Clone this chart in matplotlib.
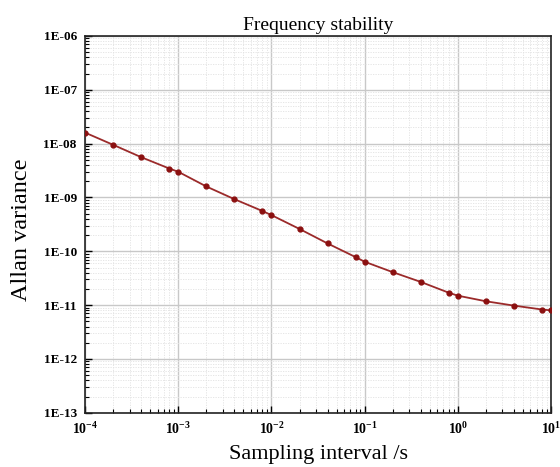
import numpy as np
import matplotlib
matplotlib.use("Agg")
import matplotlib.pyplot as plt
from matplotlib.ticker import LogLocator, NullFormatter

plt.rcParams['font.family'] = ['Liberation Serif', 'DejaVu Serif']
plt.rcParams['mathtext.fontset'] = 'custom'
plt.rcParams['mathtext.rm'] = 'Liberation Serif'
plt.rcParams['mathtext.bf'] = 'Liberation Serif:bold'

# data
tau = [1e-4, 2e-4, 4e-4, 8e-4, 1e-3, 2e-3, 4e-3, 8e-3, 1e-2, 2e-2, 4e-2,
       8e-2, 1e-1, 0.2, 0.4, 0.8, 1, 2, 4, 8, 10]
avar = [1.6e-8, 9.5e-9, 5.6e-9, 3.45e-9, 3.0e-9, 1.6e-9, 9.3e-10, 5.6e-10,
        4.7e-10, 2.6e-10, 1.4e-10, 7.8e-11, 6.4e-11, 4.1e-11, 2.7e-11,
        1.7e-11, 1.5e-11, 1.18e-11, 9.8e-12, 8.3e-12, 8.0e-12]

y_ticks = [1e-13, 1e-12, 1e-11, 1e-10, 1e-9, 1e-8, 1e-7, 1e-6]
y_labels = ["1E-13", "1E-12", "1E-11", "1E-10", "1E-09", "1E-08", "1E-07", "1E-06"]
x_ticks = [1e-4, 1e-3, 1e-2, 1e-1, 1, 10]
x_labels = [r"$\mathbf{10^{-4}}$", r"$\mathbf{10^{-3}}$", r"$\mathbf{10^{-2}}$",
            r"$\mathbf{10^{-1}}$", r"$\mathbf{10^{0}}$", r"$\mathbf{10^{1}}$"]

fig = plt.figure(figsize=(5.6, 4.67), dpi=100)
ax = fig.add_axes([0.152, 0.116, 0.832, 0.807])

ax.plot(tau, avar, color="#9b2a2a", lw=1.3, marker="o", ms=3.5,
        mfc="#8b1010", mec="#8b1010", zorder=3)

ax.set_xscale("log")
ax.set_yscale("log")
ax.set_xlim(1e-4, 10)
ax.set_ylim(1e-13, 1e-6)

ax.set_xticks(x_ticks)
ax.set_xticklabels(x_labels, fontsize=10)
ax.set_yticks(y_ticks)
ax.set_yticklabels(y_labels, fontsize=9.5, fontweight="bold")
ax.xaxis.set_minor_locator(LogLocator(base=10, subs=np.arange(2, 10), numticks=20))
ax.yaxis.set_minor_locator(LogLocator(base=10, subs=np.arange(2, 10), numticks=20))
ax.xaxis.set_minor_formatter(NullFormatter())
ax.yaxis.set_minor_formatter(NullFormatter())

ax.tick_params(which="both", direction="in", top=False, right=False)
ax.tick_params(which="major", length=5, width=1, pad=6)
ax.tick_params(which="minor", length=3, width=0.8)

ax.grid(which="major", color="#c8c8c8", lw=1.0)
ax.grid(which="minor", color="#e2e2e2", lw=0.6, ls=(0, (1.5, 1.5)))
ax.set_axisbelow(True)

for s in ax.spines.values():
    s.set_linewidth(1.2)
    s.set_color("#222222")

ax.set_title("Frequency stability", fontsize=14, pad=4)
ax.set_xlabel("Sampling interval /s", fontsize=16, labelpad=6)
ax.set_ylabel("Allan variance", fontsize=17.5)
ax.yaxis.set_label_coords(-0.114, 0.485)

fig.savefig("out.png", dpi=100)
